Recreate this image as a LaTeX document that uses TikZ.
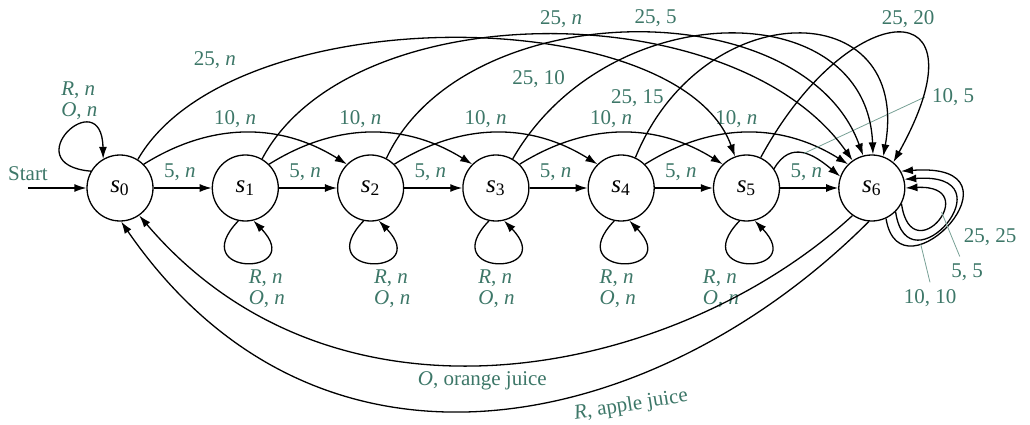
\documentclass[tikz,border=0pt]{standalone}
\usepackage{fontspec}
\setmainfont{Liberation Serif}
\usetikzlibrary{
  arrows.meta,
  positioning
}
\definecolor{labelteal}{HTML}{3D7768}
\tikzset{
  state/.style={
    circle,
    draw,
    line width=0.65pt,
    minimum size=33pt,
    inner sep=0pt,
    font=\fontsize{12.5}{14}\selectfont
  },
  arrow/.style={-{Latex[length=6pt,width=4pt]}, line width=0.65pt},
  lbl/.style={text=labelteal, font=\fontsize{10.5}{10.5}\selectfont},
  leader/.style={draw=labelteal!70, line width=0.4pt}
}
\newcommand{\sname}[1]{\textit{s}\textsubscript{#1}}

\begin{document}
\begin{tikzpicture}[x=0.5pt, y=0.5pt, node distance=29pt]
  \useasboundingbox (0,0) rectangle (1030,424);

  \node[state] (s0) at (120,236) {\sname{0}};
  \node[state, right=of s0] (s1) {\sname{1}};
  \node[state, right=of s1] (s2) {\sname{2}};
  \node[state, right=of s2] (s3) {\sname{3}};
  \node[state, right=of s3] (s4) {\sname{4}};
  \node[state, right=of s4] (s5) {\sname{5}};
  \node[state, right=of s5] (s6) {\sname{6}};

  \coordinate (entry) at (28,236);
  \draw[arrow] (entry) -- node[lbl, pos=0, above] {Start} (s0);

  % nickel
  \foreach \i/\j in {0/1,1/2,2/3,3/4,4/5,5/6}
    \draw[arrow] (s\i) -- node[lbl, above, pos=0.45] {5, \textit{n}} (s\j);

  % dime
  \foreach \i/\j in {0/2,1/3,2/4,3/5,4/6}
    \draw[arrow] (s\i.45) to[out=32, in=148]
      node[lbl, above=-1pt, pos=0.45] {10, \textit{n}} (s\j.135);
  \draw[arrow] (s5.35) to[out=60, in=140, looseness=1.3]
    coordinate[pos=0.5] (c105) (s6.160);
  \node[lbl] (l105) at (953,327) {10, 5};
  \draw[leader] (l105.west) -- (c105);

  % quarter
  \draw[arrow] (s0.58) .. controls +(94,163) and +(-56,155) .. (s5.110)
    node[lbl, pos=0.22, above left] {25, \textit{n}};
  \draw[arrow] (s1.60) .. controls +(88,166) and +(-117,167) .. (s6.125)
    node[lbl, pos=0.52, above] {25, \textit{n}};
  \draw[arrow] (s2.62) .. controls +(77,165) and +(-60,165) .. (s6.105)
    node[lbl, pos=0.54, above] {25, 5};
  \draw[arrow] (s3.60) .. controls +(95,165) and +(-6,161) .. (s6.88)
    node[lbl, pos=0.2, left=7pt] {25, 10};
  \draw[arrow] (s4.65) .. controls +(67,164) and +(29,163) .. (s6.70)
    node[lbl, pos=0.14, left] {25, 15};
  \draw[arrow] (s5.65) .. controls +(89,164) and +(97,174) .. (s6.50)
    node[lbl, pos=0.56, above] {25, 20};

  % buttons pressed too early
  \draw[arrow] (s0.150) .. controls +(175:78) and +(91:78) .. (s0.120)
    node[lbl, pos=0.5, above=3pt, xshift=6pt, align=left]
      {\textit{R}, \textit{n}\\\textit{O}, \textit{n}};
  \foreach \i/\dx in {1/10.5,2/10.5,3/0,4/-2,5/-13}
    \draw[arrow] (s\i.-102) .. controls +(-54,-56) and +(54,-56) .. (s\i.-76)
      node[lbl, pos=0.5, below, xshift=\dx pt, align=left]
        {\textit{R}, \textit{n}\\\textit{O}, \textit{n}};

  % change loops at s6
  \draw[arrow] (s6.-65) .. controls +(14,-86) and +(134,10) .. (s6.30)
    coordinate[pos=0.3] (c1010);
  \draw[arrow] (s6.-45) .. controls +(12,-82) and +(110,8) .. (s6.15);
  \draw[arrow] (s6.-28) .. controls +(10,-70) and +(80,4) .. (s6.0)
    coordinate[pos=0.6] (c55);
  \node[lbl] (l2525) at (990,187) {25, 25};
  \node[lbl] (l55) at (967,152) {5, 5};
  \node[lbl] (l1010) at (930,126) {10, 10};
  \draw[leader] (l55.115) -- (c55);
  \draw[leader] (l1010.north) -- (c1010);

  % juice
  \draw[arrow] (s6.-125) .. controls +(-173,-159) and +(200,-235) .. (s0.-55)
    node[lbl, pos=0.53, below] {\textit{O}, orange juice};
  \draw[arrow] (s6.-95) .. controls +(-211,-211) and +(200,-290) .. (s0.-88)
    node[lbl, pos=0.33, below=5pt, rotate=9] {\textit{R}, apple juice};
\end{tikzpicture}
\end{document}
